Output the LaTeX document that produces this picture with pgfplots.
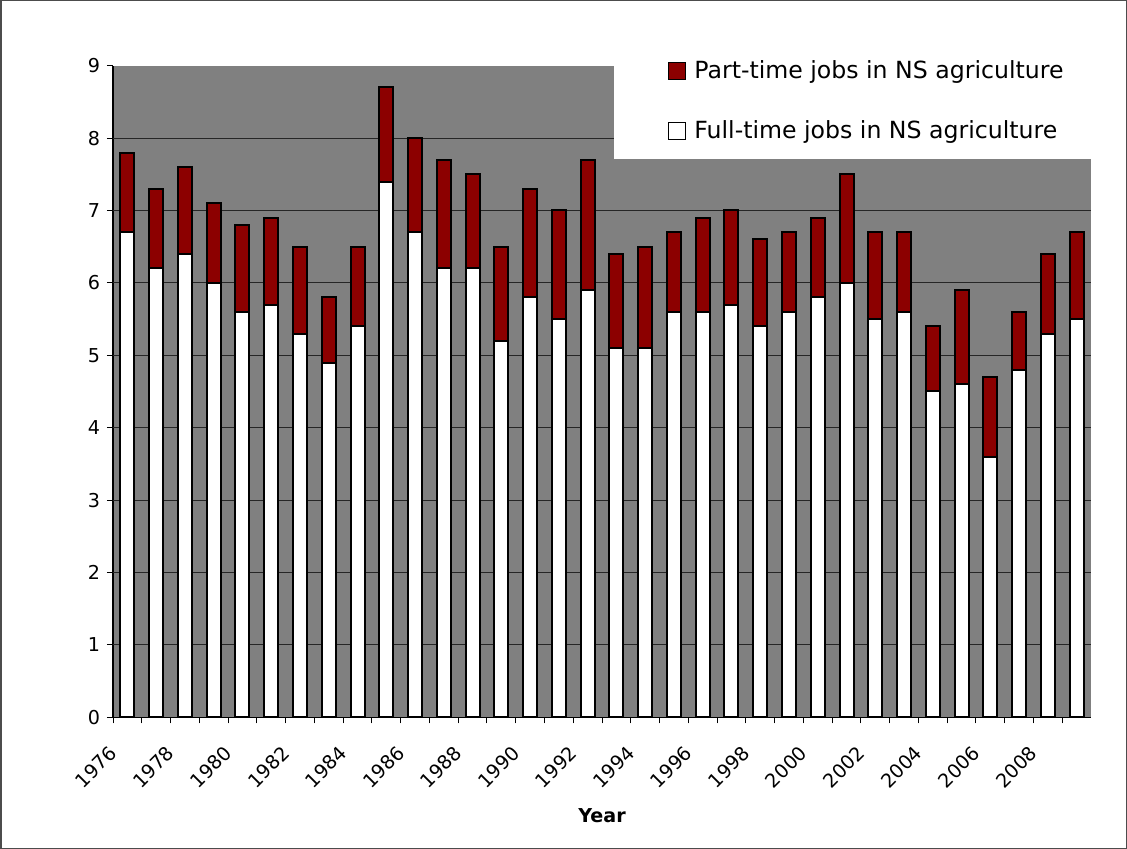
\documentclass[border=0pt]{standalone}
\usepackage{pgfplots}
\pgfplotsset{compat=1.18}
\usepackage{pgfplotstable}
\usepackage{fontspec}
\setmainfont{DejaVu Sans}
\definecolor{ptred}{RGB}{140,0,0}
\definecolor{bggray}{RGB}{128,128,128}
\pgfplotsset{sqlegend/.style={legend image code/.code={\draw[##1,line width=0.5bp] (0bp,-4.25bp) rectangle (8.5bp,4.25bp);}}}
\pgfplotstableread{
x year full part
0 1976 6.7 1.1
1 1977 6.2 1.1
2 1978 6.4 1.2
3 1979 6.0 1.1
4 1980 5.6 1.2
5 1981 5.7 1.2
6 1982 5.3 1.2
7 1983 4.9 0.9
8 1984 5.4 1.1
9 1985 7.4 1.3
10 1986 6.7 1.3
11 1987 6.2 1.5
12 1988 6.2 1.3
13 1989 5.2 1.3
14 1990 5.8 1.5
15 1991 5.5 1.5
16 1992 5.9 1.8
17 1993 5.1 1.3
18 1994 5.1 1.4
19 1995 5.6 1.1
20 1996 5.6 1.3
21 1997 5.7 1.3
22 1998 5.4 1.2
23 1999 5.6 1.1
24 2000 5.8 1.1
25 2001 6.0 1.5
26 2002 5.5 1.2
27 2003 5.6 1.1
28 2004 4.5 0.9
29 2005 4.6 1.3
30 2006 3.6 1.1
31 2007 4.8 0.8
32 2008 5.3 1.1
33 2009 5.5 1.2
}\datatable
\begin{document}
\begin{tikzpicture}
\useasboundingbox (0,0) rectangle (563.5bp,424.5bp);
\begin{axis}[
  at={(56.5bp,65.85bp)}, anchor=south west,
  scale only axis, width=489bp, height=325.8bp,
  ybar stacked, bar width=7bp,
  xmin=-0.5, xmax=33.5, ymin=0, ymax=9,
  ytick={0,1,...,9},
  extra y ticks={1,2,...,8},
  extra y tick labels={},
  extra y tick style={grid=major, major tick length=0pt},
  xtick={-0.5,1.5,...,31.5},
  minor xtick={0.5,2.5,...,33.5},
  xticklabels={1976,1978,1980,1982,1984,1986,1988,1990,1992,1994,1996,1998,2000,2002,2004,2006,2008},
  axis lines*=left,
  axis line style={black, line width=0.75bp},
  axis background/.style={fill=bggray},
  major grid style={black!85, line width=0.5bp},
  tick align=outside,
  major tick length=3bp,
  minor tick length=3bp,
  tick style={black, line width=0.5bp},
  /pgf/number format/assume math mode=true,
  ticklabel style={font=\fontsize{9.6}{11}\selectfont},
  xticklabel style={yshift=-9bp, xshift=-2.5bp, rotate=45, anchor=north east, inner sep=1bp},
  xlabel={Year},
  xlabel style={at={(axis description cs:0.5,0)}, anchor=center, yshift=-49.4bp, font=\bfseries\fontsize{9.6}{11}\selectfont},
  reverse legend,
  legend cell align=left,
  legend style={at={(rel axis cs:0.5675,1.015)}, anchor=north west, draw=none, fill=none, inner sep=0pt,
    font=\fontsize{11.85}{13}\selectfont, row sep=15.5bp, column sep=2bp},
]
\fill[white] (rel axis cs:0.5123,0.857) rectangle (rel axis cs:1,1);
\addplot[fill=white, draw=black, line width=1bp, sqlegend] table[x=x,y=full]{\datatable};
\addlegendentry{Full-time jobs in NS agriculture}
\addplot[fill=ptred, draw=black, line width=1bp, sqlegend] table[x=x,y=part]{\datatable};
\addlegendentry{Part-time jobs in NS agriculture}
\end{axis}
\draw[black!70, line width=0.75bp] (0.375bp,0.375bp) rectangle (563.125bp,424.125bp);
\end{tikzpicture}
\end{document}
